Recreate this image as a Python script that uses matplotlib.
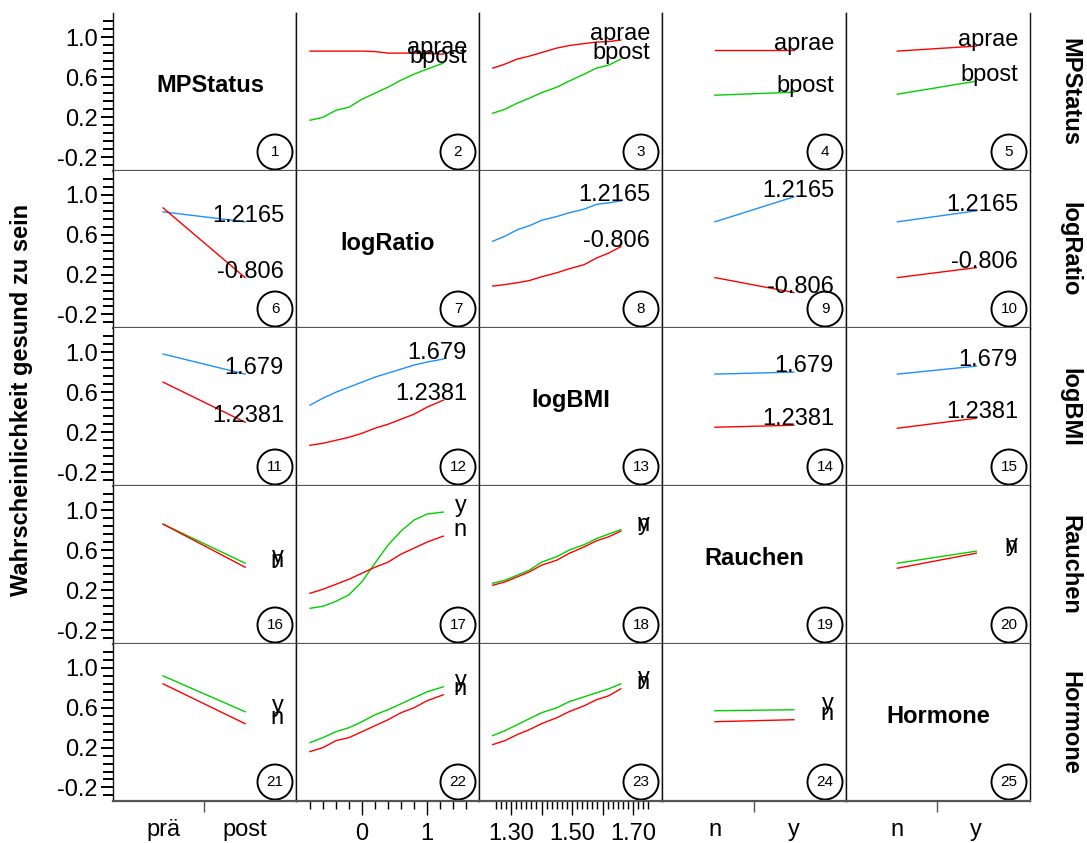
import matplotlib
matplotlib.use('Agg')
import matplotlib.pyplot as plt
from matplotlib.patches import Ellipse
import matplotlib.transforms as mtrans
from matplotlib.ticker import FixedLocator

plt.rcParams['font.family'] = ['Liberation Sans', 'DejaVu Sans']

# ---------------- data ----------------
variables = ["MPStatus", "logRatio", "logBMI", "Rauchen", "Hormone"]
cat_mp = ["prä", "post"]
cat_ny = ["n", "y"]
cat_pos = [1, 2]
logratio_x = [-0.8, -0.6, -0.4, -0.2, 0.0, 0.2, 0.4, 0.6, 0.8, 1.0, 1.25]
logbmi_x = [1.24, 1.28, 1.32, 1.36, 1.40, 1.45, 1.49, 1.54, 1.58, 1.62, 1.66]

levels_mp = ["aprae", "bpost"]
levels_ratio = ["1.2165", "-0.806"]
levels_bmi = ["1.679", "1.2381"]
levels_rauchen = ["y", "n"]
levels_hormone = ["y", "n"]

# row 1: MPStatus
p2_aprae = [0.86, 0.86, 0.86, 0.86, 0.86, 0.855, 0.84, 0.84, 0.84, 0.835, 0.83]
p2_bpost = [0.17, 0.20, 0.27, 0.30, 0.38, 0.44, 0.50, 0.57, 0.63, 0.68, 0.74]
p3_aprae = [0.69, 0.73, 0.78, 0.81, 0.845, 0.89, 0.915, 0.935, 0.95, 0.955, 0.97]
p3_bpost = [0.24, 0.28, 0.34, 0.39, 0.445, 0.50, 0.56, 0.63, 0.69, 0.72, 0.78]
p4_aprae = [0.87, 0.87]
p4_bpost = [0.42, 0.45]
p5_aprae = [0.86, 0.91]
p5_bpost = [0.43, 0.56]
# row 2: logRatio
p6_hi = [0.83, 0.73]
p6_lo = [0.87, 0.17]
p8_hi = [0.535, 0.585, 0.65, 0.69, 0.745, 0.783, 0.82, 0.857, 0.905, 0.92, 0.94]
p8_lo = [0.085, 0.10, 0.118, 0.14, 0.178, 0.218, 0.258, 0.30, 0.366, 0.416, 0.48]
p9_hi = [0.73, 0.98]
p9_lo = [0.17, 0.02]
p10_hi = [0.73, 0.84]
p10_lo = [0.17, 0.27]
# row 3: logBMI
p11_hi = [0.98, 0.78]
p11_lo = [0.70, 0.30]
p12_hi = [0.47, 0.54, 0.60, 0.65, 0.70, 0.75, 0.79, 0.83, 0.87, 0.90, 0.93]
p12_lo = [0.07, 0.09, 0.12, 0.15, 0.19, 0.24, 0.28, 0.33, 0.38, 0.45, 0.52]
p14_hi = [0.78, 0.80]
p14_lo = [0.25, 0.27]
p15_hi = [0.78, 0.86]
p15_lo = [0.24, 0.34]
# row 4: Rauchen
p16_y = [0.86, 0.47]
p16_n = [0.86, 0.43]
p17_y = [0.02, 0.04, 0.09, 0.155, 0.285, 0.47, 0.65, 0.79, 0.90, 0.96, 0.98]
p17_n = [0.17, 0.21, 0.26, 0.31, 0.37, 0.43, 0.48, 0.56, 0.62, 0.68, 0.74]
p18_y = [0.27, 0.30, 0.35, 0.40, 0.48, 0.535, 0.60, 0.655, 0.715, 0.76, 0.805]
p18_n = [0.25, 0.283, 0.333, 0.383, 0.45, 0.50, 0.567, 0.633, 0.693, 0.733, 0.79]
p20_y = [0.47, 0.59]
p20_n = [0.42, 0.57]
# row 5: Hormone
p21_y = [0.92, 0.56]
p21_n = [0.84, 0.44]
p22_y = [0.25, 0.30, 0.36, 0.40, 0.46, 0.53, 0.58, 0.64, 0.70, 0.76, 0.81]
p22_n = [0.16, 0.20, 0.27, 0.30, 0.36, 0.42, 0.48, 0.55, 0.60, 0.67, 0.73]
p23_y = [0.32, 0.37, 0.43, 0.49, 0.55, 0.60, 0.66, 0.71, 0.75, 0.79, 0.84]
p23_n = [0.23, 0.27, 0.33, 0.38, 0.44, 0.50, 0.56, 0.62, 0.68, 0.72, 0.79]
p24_y = [0.57, 0.58]
p24_n = [0.46, 0.48]

RED, GREEN, BLUE = '#FF0000', '#00D000', '#1E90FF'

row_series = {
    0: (levels_mp, [RED, GREEN]),
    1: (levels_ratio, [BLUE, RED]),
    2: (levels_bmi, [BLUE, RED]),
    3: (levels_rauchen, [GREEN, RED]),
    4: (levels_hormone, [GREEN, RED]),
}
panel_data = {
    (0, 1): [p2_aprae, p2_bpost], (0, 2): [p3_aprae, p3_bpost],
    (0, 3): [p4_aprae, p4_bpost], (0, 4): [p5_aprae, p5_bpost],
    (1, 0): [p6_hi, p6_lo], (1, 2): [p8_hi, p8_lo],
    (1, 3): [p9_hi, p9_lo], (1, 4): [p10_hi, p10_lo],
    (2, 0): [p11_hi, p11_lo], (2, 1): [p12_hi, p12_lo],
    (2, 3): [p14_hi, p14_lo], (2, 4): [p15_hi, p15_lo],
    (3, 0): [p16_y, p16_n], (3, 1): [p17_y, p17_n],
    (3, 2): [p18_y, p18_n], (3, 4): [p20_y, p20_n],
    (4, 0): [p21_y, p21_n], (4, 1): [p22_y, p22_n],
    (4, 2): [p23_y, p23_n], (4, 3): [p24_y, p24_n],
}
col_x = [cat_pos, logratio_x, logbmi_x, cat_pos, cat_pos]
col_xlim = [(0.39, 2.62), (-1.015, 1.80), (1.195, 1.795), (0.33, 2.66), (0.35, 2.68)]

# ---------------- layout ----------------
W, H = 1087, 843
fig = plt.figure(figsize=(W / 100, H / 100), dpi=100)

col_left = [113, 296, 479, 662, 846]
col_w = [183, 183, 183, 184, 184]
row_top = [13, 171, 328, 486, 644]
row_bot = [171, 328, 486, 644, 801]
YLIM = (-0.336, 1.24)
FS = 17

for r in range(5):
    for c in range(5):
        x0, w = col_left[c], col_w[c]
        t, b = row_top[r], row_bot[r]
        h = b - t
        ax = fig.add_axes([x0 / W, 1 - b / H, w / W, h / H])
        ax.set_xlim(*col_xlim[c])
        ax.set_ylim(*YLIM)
        ax.spines['top'].set_visible(False)
        for s in ('left', 'right'):
            ax.spines[s].set_color('#111111')
            ax.spines[s].set_linewidth(1.0)
        ax.spines['bottom'].set_color('#555555')
        ax.spines['bottom'].set_linewidth(1.6)
        ax.tick_params(which='both', left=False, labelleft=False,
                       bottom=False, labelbottom=False)

        if r == c:
            dx = 0.03 if r == 0 else 0.0
            ax.text(0.5 + dx, 0.54, variables[r], transform=ax.transAxes,
                    ha='center', va='center', fontsize=FS, fontweight='bold')
        else:
            labels, colors = row_series[r]
            xs = col_x[c]
            blend = mtrans.blended_transform_factory(ax.transAxes, ax.transData)
            for vals, lab, colr in zip(panel_data[(r, c)], labels, colors):
                ax.plot(xs, vals, color=colr, lw=1.0)
                ax.annotate(lab, xy=(1, vals[-1]), xycoords=blend,
                            xytext=(-12, 0), textcoords='offset pixels',
                            ha='right', va='baseline', fontsize=FS)

        # circled panel number
        cx, cy = 1 - 21 / w, 19 / h
        ax.add_patch(Ellipse((cx, cy), 35 / w, 35 / h, transform=ax.transAxes,
                             facecolor='none', edgecolor='black', lw=1.4,
                             clip_on=False))
        ax.text(cx, cy, str(r * 5 + c + 1), transform=ax.transAxes,
                ha='center', va='center', fontsize=11)

        # y axis
        if c == 0:
            ax.tick_params(which='both', left=True, labelleft=True,
                           direction='out', labelsize=FS)
            ax.set_yticks([-0.2, 0.2, 0.6, 1.0])
            ax.set_yticklabels(['-0.2', '0.2', '0.6', '1.0'])
            ax.yaxis.set_minor_locator(FixedLocator([-0.28 + 0.08 * k for k in range(19)]))
            ax.tick_params(axis='y', which='major', length=9, width=1.4, pad=2)
            ax.tick_params(axis='y', which='minor', length=7, width=1.4)

        # x axis
        if r == 4:
            ax.tick_params(axis='x', which='both', bottom=True, labelbottom=True,
                           direction='out', labelsize=FS)
            if c in (0, 3, 4):
                cats = cat_mp if c == 0 else cat_ny
                ax.set_xticks([1.5])
                ax.set_xticklabels([''])
                ax.xaxis.set_minor_locator(FixedLocator(cat_pos))
                ax.set_xticklabels(cats, minor=True)
                ax.tick_params(axis='x', which='major', length=8, width=1.0, color='#555555')
                ax.tick_params(axis='x', which='minor', length=0, pad=13)
            elif c == 1:
                ax.set_xticks([0, 1])
                ax.set_xticklabels(['0', '1'])
                ax.xaxis.set_minor_locator(FixedLocator([-0.8 + 0.2 * k for k in range(13)]))
                ax.tick_params(axis='x', which='major', length=10, width=1.0, pad=5.5)
                ax.tick_params(axis='x', which='minor', length=6, width=1.0)
            else:
                ax.set_xticks([1.3, 1.4, 1.5, 1.6, 1.7])
                ax.set_xticklabels(['1.30', '', '1.50', '', '1.70'])
                ax.xaxis.set_minor_locator(FixedLocator([1.25 + k / 60 for k in range(31)]))
                ax.tick_params(axis='x', which='major', length=10, width=1.0, pad=5.5)
                ax.tick_params(axis='x', which='minor', length=6, width=1.0)

# row labels on the right
for r in range(5):
    yc = (row_top[r] + row_bot[r]) / 2
    fig.text(1070 / W, 1 - yc / H, variables[r], rotation=270, ha='center',
             va='center', fontsize=FS, fontweight='bold')

fig.text(22 / W, 1 - 400 / H, 'Wahrscheinlichkeit gesund zu sein', rotation=90,
         ha='center', va='center', fontsize=FS, fontweight='bold')

fig.savefig('out.png', dpi=100)
